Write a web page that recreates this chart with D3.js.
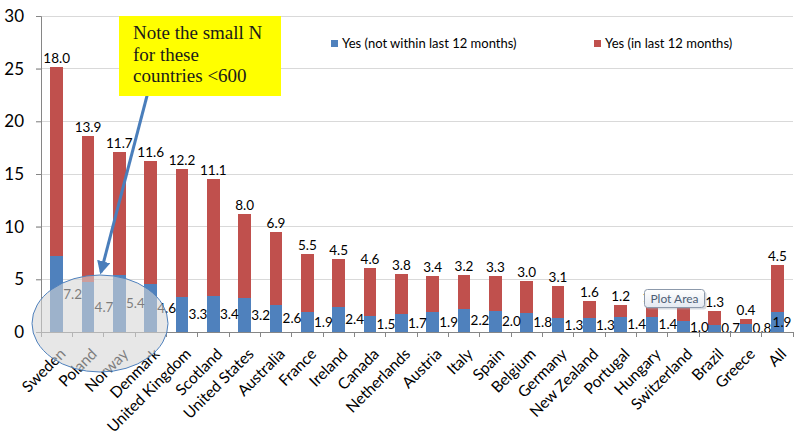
<!DOCTYPE html>
<html>
<head>
<meta charset="utf-8">
<script src="https://cdn.jsdelivr.net/npm/d3@7"></script>
<style>
  html, body { margin: 0; padding: 0; background: #fff; }
  svg { display: block; }
</style>
</head>
<body>
<svg id="chart" width="802" height="434"></svg>
<script>
const categories = ["Sweden","Poland","Norway","Denmark","United Kingdom","Scotland","United States","Australia","France","Ireland","Canada","Netherlands","Austria","Italy","Spain","Belgium","Germany","New Zealand","Portugal","Hungary","Switzerland","Brazil","Greece","All"];
const notWithin12 = [7.2,4.7,5.4,4.6,3.3,3.4,3.2,2.6,1.9,2.4,1.5,1.7,1.9,2.2,2.0,1.8,1.3,1.3,1.4,1.4,1.0,0.7,0.8,1.9];
const inLast12 = [18.0,13.9,11.7,11.6,12.2,11.1,8.0,6.9,5.5,4.5,4.6,3.8,3.4,3.2,3.3,3.0,3.1,1.6,1.2,1.1,1.5,1.3,0.4,4.5];
const yTicks = [0,5,10,15,20,25,30];
const seriesNames = ["Yes (not within last 12 months)", "Yes (in last 12 months)"];
const colors = ["#4F81BD", "#C0504D"];
const noteLines = ["Note the small N", "for these", "countries <600"];

(function () {
const svg = d3.select("#chart");
const font = "Lato, 'Open Sans', sans-serif";
const pLeft = 41, pRight = 793, pTop = 16, pBottom = 332;

const x = d3.scaleBand().domain(categories).range([pLeft, pRight]).paddingInner(0.59).paddingOuter(0.295);
const xb = d3.scaleBand().domain(categories).range([pLeft, pRight]);
const y = d3.scaleLinear().domain([0, 30]).range([pBottom, pTop]);

// gridlines
svg.append("g").selectAll("line").data(yTicks.filter(d => d > 0)).join("line")
  .attr("x1", pLeft - 5).attr("x2", pRight).attr("y1", d => y(d)).attr("y2", d => y(d))
  .attr("stroke", "#D9D9D9").attr("stroke-width", 1).attr("shape-rendering", "crispEdges");

// stacked data
const rows = categories.map((c, i) => ({ c, a: notWithin12[i], b: inLast12[i] }));
const stack = d3.stack().keys(["a", "b"])(rows);

svg.append("g").selectAll("g").data(stack).join("g")
  .attr("fill", (d, i) => colors[i])
  .selectAll("rect").data(d => d).join("rect")
  .attr("x", d => x(d.data.c)).attr("width", x.bandwidth())
  .attr("y", d => y(d[1])).attr("height", d => y(d[0]) - y(d[1]))
  .attr("shape-rendering", "crispEdges");

// labels: red at top of stack
svg.append("g").selectAll("text").data(rows).join("text")
  .attr("x", d => x(d.c) + x.bandwidth() / 2)
  .attr("y", d => y(d.a + d.b) - 4)
  .attr("text-anchor", "middle")
  .attr("font-family", font).attr("font-size", 13.5).attr("fill", "#000")
  .text(d => d.b.toFixed(1));

// labels: blue, right of bar at segment center
svg.append("g").selectAll("text").data(rows).join("text")
  .attr("x", d => Math.min(x(d.c) + x.bandwidth() / 2 + 16, pRight - 11))
  .attr("y", d => y(d.a / 2))
  .attr("dy", "0.36em")
  .attr("text-anchor", "middle")
  .attr("font-family", font).attr("font-size", 13.5).attr("fill", "#000")
  .text(d => d.a.toFixed(1));

// y axis
const yAxis = svg.append("g").attr("transform", `translate(${pLeft},0)`)
  .call(d3.axisLeft(y).tickValues(yTicks).tickSize(5).tickPadding(12).tickFormat(d3.format("d")));
yAxis.select(".domain").attr("stroke", "#868686");
yAxis.selectAll(".tick line").attr("stroke", "#868686");
yAxis.selectAll("text").attr("font-family", font).attr("font-size", 17).attr("fill", "#000");

// x axis
const xAxis = svg.append("g").attr("transform", `translate(0,${pBottom})`)
  .call(d3.axisBottom(xb).tickSize(0).tickFormat(""));
xAxis.select(".domain").attr("stroke", "#868686");
xAxis.selectAll(".tick").remove();
const bounds = categories.map(c => xb(c)).concat([pRight]);
xAxis.append("g").selectAll("line").data(bounds).join("line")
  .attr("x1", d => d).attr("x2", d => d).attr("y1", 0).attr("y2", 5)
  .attr("stroke", "#868686").attr("shape-rendering", "crispEdges");
svg.append("g").selectAll("text").data(categories).join("text")
  .attr("transform", c => `translate(${x(c) + x.bandwidth() / 2 + 10},${pBottom + 23}) rotate(-45)`)
  .attr("text-anchor", "end")
  .attr("font-family", font).attr("font-size", 15.5).attr("fill", "#000")
  .text(c => c);

// ellipse highlight
svg.append("ellipse").attr("cx", 100).attr("cy", 323.5).attr("rx", 68).attr("ry", 48.5)
  .attr("fill", "#D6D6D6").attr("fill-opacity", 0.58)
  .attr("stroke", "#4F81BD").attr("stroke-width", 1);

// arrow
const defs = svg.append("defs");
defs.append("marker").attr("id", "ah").attr("viewBox", "0 0 10 10")
  .attr("refX", 8).attr("refY", 5).attr("markerWidth", 4.5).attr("markerHeight", 4.5)
  .attr("orient", "auto").attr("markerUnits", "strokeWidth")
  .append("path").attr("d", "M0,0 L10,5 L0,10 z").attr("fill", "#4A7EBB");
svg.append("line").attr("x1", 148).attr("y1", 92).attr("x2", 101).attr("y2", 272)
  .attr("stroke", "#4A7EBB").attr("stroke-width", 3).attr("marker-end", "url(#ah)");

// note box
svg.append("rect").attr("x", 119).attr("y", 16).attr("width", 162).attr("height", 80).attr("fill", "#FFFF00");
svg.append("g").selectAll("text").data(noteLines).join("text")
  .attr("x", 133).attr("y", (d, i) => 39 + i * 21.5)
  .attr("font-family", "'Liberation Serif', serif").attr("font-size", 19).attr("fill", "#1a1a1a")
  .text(d => d);

// legend
const legX = [331, 594];
const leg = svg.append("g").selectAll("g").data(seriesNames).join("g")
  .attr("transform", (d, i) => `translate(${legX[i]},40)`);
leg.append("rect").attr("width", 7).attr("height", 7).attr("fill", (d, i) => colors[i]);
leg.append("text").attr("x", 11).attr("y", 3.5).attr("dy", "0.36em")
  .attr("font-family", font).attr("font-size", 13).attr("fill", "#000").text(d => d);

// "Plot Area" tooltip
const grad = defs.append("linearGradient").attr("id", "tg").attr("x1", 0).attr("y1", 0).attr("x2", 0).attr("y2", 1);
grad.append("stop").attr("offset", "0%").attr("stop-color", "#FFFFFF");
grad.append("stop").attr("offset", "100%").attr("stop-color", "#E4E9F1");
svg.append("rect").attr("x", 646.5).attr("y", 291.5).attr("width", 60).attr("height", 18).attr("rx", 3)
  .attr("fill", "#9aa5b5").attr("opacity", 0.4);
svg.append("rect").attr("x", 644.5).attr("y", 289.5).attr("width", 60).attr("height", 18).attr("rx", 3)
  .attr("fill", "url(#tg)").attr("stroke", "#8C99AB").attr("stroke-width", 1);
svg.append("text").attr("x", 674.5).attr("y", 298.5).attr("dy", "0.36em").attr("text-anchor", "middle")
  .attr("font-family", font).attr("font-size", 12).attr("fill", "#4C5E75").text("Plot Area");
})();
</script>
</body>
</html>
